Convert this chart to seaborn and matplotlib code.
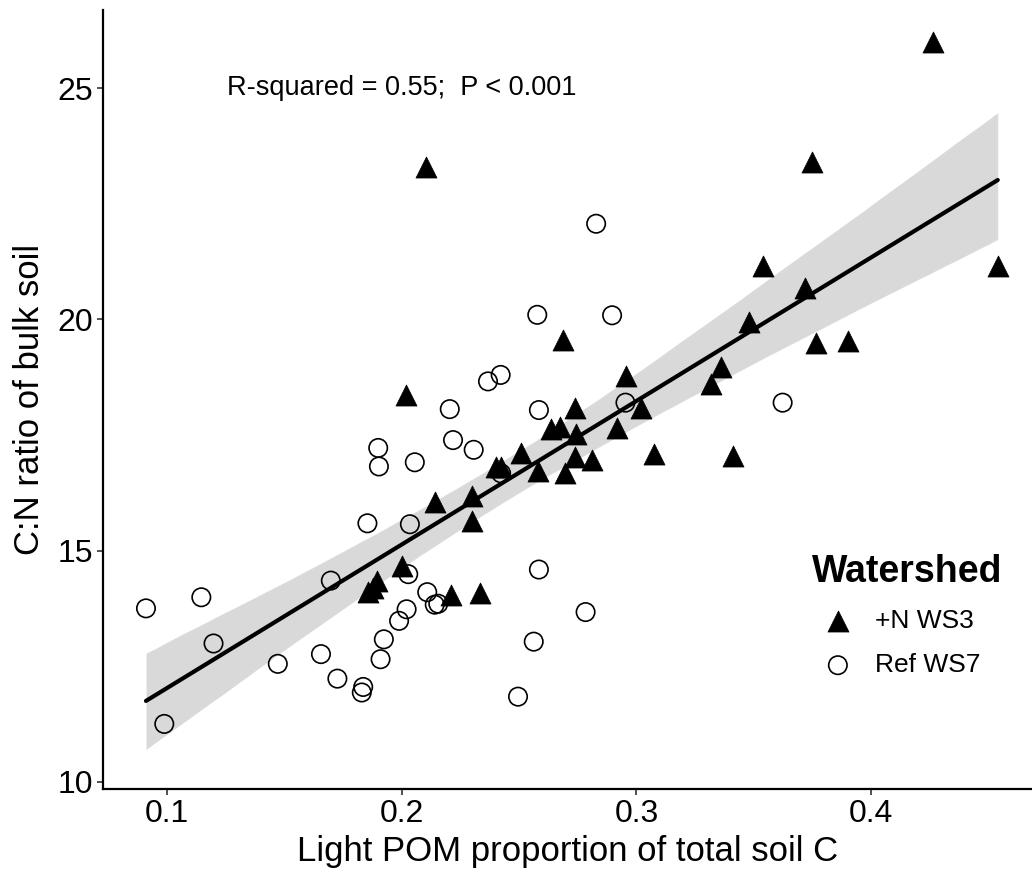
import numpy as np
import pandas as pd
import matplotlib
matplotlib.use("Agg")
import matplotlib.pyplot as plt
import seaborn as sns

# +N WS3 (filled triangles)
ws3_x = [0.4265, 0.375, 0.2102, 0.354, 0.454, 0.3718, 0.3478, 0.2686, 0.3764, 0.390,
         0.336, 0.3317, 0.2956, 0.302, 0.274, 0.2017, 0.2916, 0.2743, 0.2637, 0.2672,
         0.274, 0.281, 0.3074, 0.341, 0.2694, 0.2509, 0.2402, 0.2423, 0.258, 0.214,
         0.2297, 0.2297, 0.1999, 0.1892, 0.1857, 0.1878, 0.2209, 0.2334]
ws3_y = [26.0, 23.41, 23.29, 21.15, 21.15, 20.68, 19.94, 19.55, 19.50, 19.53,
         18.97, 18.60, 18.78, 18.09, 18.09, 18.37, 17.66, 17.52, 17.63, 17.67,
         17.02, 16.95, 17.09, 17.04, 16.67, 17.12, 16.80, 16.80, 16.72, 16.06,
         16.18, 15.65, 14.67, 14.35, 14.10, 14.18, 14.04, 14.08]

# Ref WS7 (open circles)
ws7_x = [0.0909, 0.0987, 0.1145, 0.1197, 0.1471, 0.1655, 0.1697, 0.1725, 0.1835, 0.1829,
         0.1853, 0.1899, 0.1902, 0.1909, 0.1923, 0.1988, 0.202, 0.2027, 0.2034, 0.2055,
         0.2108, 0.214, 0.2155, 0.2204, 0.2218, 0.2306, 0.2367, 0.2421, 0.2423, 0.2495,
         0.2562, 0.2577, 0.2584, 0.2584, 0.2783, 0.2828, 0.2896, 0.2953, 0.3623]
ws7_y = [13.75, 11.25, 13.99, 12.99, 12.55, 12.76, 14.35, 12.23, 12.05, 11.93,
         15.59, 17.22, 16.82, 12.65, 13.08, 13.48, 13.73, 14.49, 15.57, 16.91,
         14.10, 13.83, 13.85, 18.06, 17.39, 17.18, 18.66, 18.80, 16.67, 11.84,
         13.03, 20.10, 18.04, 14.59, 13.67, 22.07, 20.09, 18.20, 18.20]

groups = ["+N WS3", "Ref WS7"]
x_ticks = [0.1, 0.2, 0.3, 0.4]
y_ticks = [10, 15, 20, 25]

df = pd.DataFrame({
    "x": ws3_x + ws7_x,
    "y": ws3_y + ws7_y,
    "Watershed": [groups[0]] * len(ws3_x) + [groups[1]] * len(ws7_x),
})

sns.set_theme(style="ticks")
plt.rcParams["font.family"] = ["Liberation Sans", "DejaVu Sans"]
plt.rcParams["text.color"] = "black"
plt.rcParams["axes.labelcolor"] = "black"

W, H = 1032, 875
fig = plt.figure(figsize=(W / 100, H / 100), dpi=100)
ax = fig.add_axes([102.5 / W, (H - 789.3) / H, (W - 102.5) / W, (789.3 - 10) / H])

sns.regplot(data=df, x="x", y="y", scatter=False, ci=95, color="black",
            n_boot=5000, seed=1, line_kws={"linewidth": 3.0}, ax=ax)

d3 = df[df["Watershed"] == groups[0]]
d7 = df[df["Watershed"] == groups[1]]
sns.scatterplot(data=d3, x="x", y="y", marker="^", color="black", s=230,
                edgecolor="black", linewidth=0.5, label=groups[0], ax=ax, zorder=3)
sns.scatterplot(data=d7, x="x", y="y", marker="o", facecolors="none",
                edgecolors="black", linewidth=1.2, s=175, label=groups[1], ax=ax, zorder=3)

ax.set_xlim(0.07237, 0.4686)
ax.set_ylim(9.836, 26.694)
ax.set_xticks(x_ticks)
ax.set_xticklabels([f"{v:.1f}" for v in x_ticks])
ax.set_yticks(y_ticks)
ax.tick_params(axis="both", labelsize=23, length=4, width=1.2, color="#333333",
               labelcolor="black", pad=3)
for side in ["top", "right"]:
    ax.spines[side].set_visible(False)
for side in ["left", "bottom"]:
    ax.spines[side].set_linewidth(1.6)
    ax.spines[side].set_color("black")

ax.set_xlabel("Light POM proportion of total soil C", fontsize=25, labelpad=4)
ax.set_ylabel("C:N ratio of bulk soil", fontsize=25, labelpad=8)

ax.text(0.2, 25.0, "R-squared = 0.55;  P < 0.001", fontsize=19.5,
        ha="center", va="center", color="black")

leg = ax.legend(title="Watershed", loc="upper left",
                bbox_to_anchor=(0.7372, 0.3330),
                frameon=False, fontsize=19, title_fontsize=27, alignment="left",
                handletextpad=0.4, labelspacing=0.75, markerscale=1.0)
leg.get_title().set_fontweight("bold")
leg.get_title().set_color("black")
for t in leg.get_texts():
    t.set_color("black")

fig.savefig("out.png", dpi=100)
